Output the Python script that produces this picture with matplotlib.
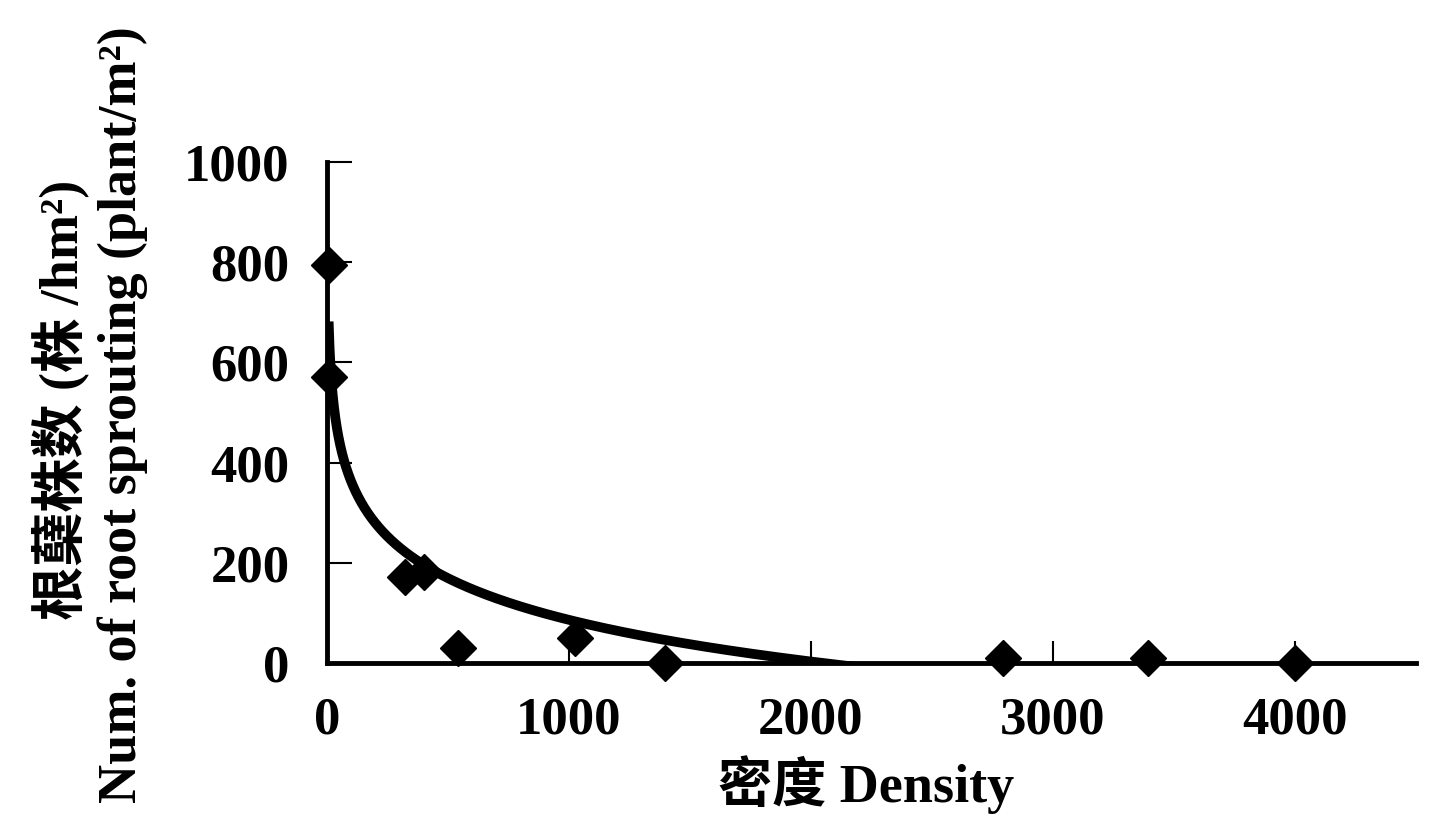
import numpy as np
import matplotlib
matplotlib.use("Agg")
import matplotlib.pyplot as plt

# --- data ---
density = [7, 7, 322, 401, 541, 1025, 1397, 2793, 3393, 4000]
sprouts = [795, 571, 172, 182, 30, 50, 0, 10, 10, 0]

# logarithmic trendline y = a - b*ln(x), drawn over the data range
trend_a = 915
trend_b = 120

x_ticks = [0, 1000, 2000, 3000, 4000]
y_ticks = [0, 200, 400, 600, 800, 1000]

FONT = ["Liberation Serif", "Noto Sans CJK SC", "DejaVu Sans"]
plt.rcParams["font.family"] = FONT
plt.rcParams["font.weight"] = "bold"

fig = plt.figure(figsize=(14.29, 8.25), dpi=100)
fig.patch.set_facecolor("white")
ax = fig.add_axes([0.2288, 0.1964, 0.762, 0.6073])

tx = np.linspace(min(density), max(density), 2000)
ty = trend_a - trend_b * np.log(tx)
ax.plot(tx, ty, color="black", lw=7, solid_capstyle="butt", zorder=3)

ax.plot(density, sprouts, linestyle="none", marker="D", ms=18,
        color="black", mec="black", clip_on=False, zorder=4)

ax.set_xlim(0, 4500)
ax.set_ylim(0, 1000)
ax.set_xticks(x_ticks)
ax.set_yticks(y_ticks)

for s in ["top", "right"]:
    ax.spines[s].set_visible(False)
for s in ["left", "bottom"]:
    ax.spines[s].set_linewidth(3.5)
    ax.spines[s].set_color("black")

ax.tick_params(axis="y", direction="in", length=18, width=1.5,
               labelsize=38, pad=27)
ax.tick_params(axis="x", direction="in", length=16, width=1.5,
               labelsize=38, pad=24)
for lab in ax.get_xticklabels() + ax.get_yticklabels():
    lab.set_fontweight("bold")

ax.set_xlabel("密度 Density", fontsize=39, fontweight="bold", va="center")
ax.xaxis.set_label_coords(0.495, -0.2435)

fig.text(60 / 1429, 1 - 400 / 825, "根蘖株数 (株 /hm²)",
         rotation=90, ha="center", va="center", fontsize=39,
         fontweight="bold")
fig.text(123 / 1429, 1 - 415 / 825,
         "Num. of root sprouting (plant/m²)",
         rotation=90, ha="center", va="center", fontsize=39,
         fontweight="bold")

fig.savefig("out.png", dpi=100, facecolor="white")
